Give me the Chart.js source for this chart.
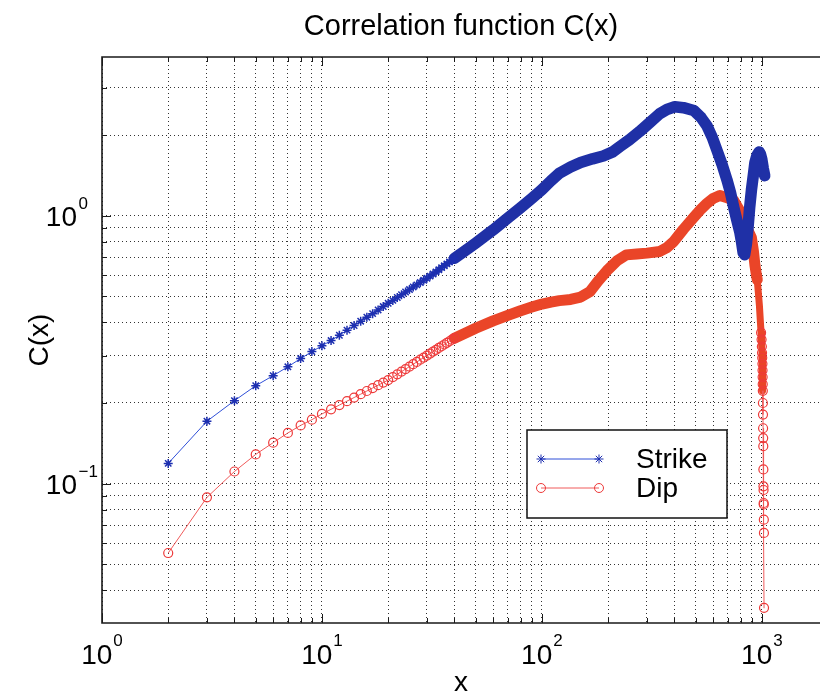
<!DOCTYPE html>
<html><head><meta charset="utf-8">
<script src="https://cdn.jsdelivr.net/npm/chart.js@4.4.0/dist/chart.umd.min.js"></script>
<style>html,body{margin:0;padding:0;background:#fff;}canvas{display:block;}</style>
</head><body>
<canvas id="c" width="820" height="700"></canvas>
<script>
const seriesNames = ['Strike', 'Dip'];
const strikeX = [2,3,4,5,6,7,8,9,10,11,12,13,14,15,16,17,18,19,20,21,22,23,24,25,26,27,28,29,30,31,32,33,34,35,36,37,38,39,40,
  45,50,60,70,80,90,100,110,120,135,150,170,190,210,226,250,278,310,343,370,402,440,490,530,562,595,624,660,694,720,744,770,795,810,822,835,850,866,880,897,915,930,950,972,985,1000,1015,1030];
const strikeY = [0.119,0.171,0.204,0.232,0.253,0.273,0.293,0.311,0.327,0.342,0.358,0.374,0.389,0.404,0.418,0.431,0.445,0.458,0.471,0.483,0.495,0.507,0.519,0.530,0.542,0.552,0.563,0.574,0.584,0.595,0.606,0.617,0.628,0.640,0.650,0.661,0.672,0.682,0.693,
  0.742,0.790,0.885,0.98,1.07,1.16,1.25,1.35,1.44,1.52,1.58,1.63,1.67,1.73,1.81,1.92,2.06,2.23,2.40,2.49,2.55,2.53,2.47,2.32,2.17,1.96,1.76,1.55,1.36,1.22,1.08,0.96,0.864,0.79,0.727,0.715,0.78,0.91,1.07,1.25,1.42,1.58,1.68,1.73,1.70,1.62,1.50,1.41];
const dipX = [2,3,4,5,6,7,8,9,10,11,12,13,14,15,16,17,18,19,20,21,22,23,24,25,26,27,28,29,30,31,32,33,34,35,36,37,38,39,40,
  45,50,60,70,80,90,100,110,120,135,150,165,180,200,220,242,270,300,343,370,397,440,490,530,562,600,644,690,744,790,822,860,897,915,930,942,953,
  965,975,985,992,997,1000,1002,1004,1006,1007,1008,1009,1010,1011,1012,1013,1014,1015,1016,1017,1018,1019,1020,1021,1022,1023];
const dipY = [0.0551,0.0889,0.111,0.1286,0.1422,0.1546,0.165,0.1733,0.182,0.1894,0.1965,0.2032,0.2096,0.2157,0.2217,0.2274,0.2330,0.2383,0.2435,0.2498,0.2559,0.2619,0.2677,0.2735,0.2791,0.2846,0.2901,0.2954,0.3006,0.3058,0.3109,0.3159,0.3209,0.3257,0.3306,0.3353,0.3400,0.3446,0.3492,
  0.365,0.380,0.405,0.425,0.442,0.456,0.468,0.476,0.482,0.487,0.497,0.52,0.57,0.63,0.68,0.714,0.72,0.725,0.735,0.76,0.80,0.89,0.985,1.06,1.11,1.16,1.19,1.17,1.14,1.05,0.96,0.89,0.826,0.74,0.654,0.61,0.577,
  0.51,0.46,0.40,0.366,0.345,0.325,0.308,0.295,0.28,0.265,0.25,0.235,0.222,0.200,0.181,0.161,0.148,0.138,0.113,0.0977,0.0947,0.0847,0.0836,0.0734,0.0655,0.0344];
const xGridValues = [1,2,3,4,5,6,7,8,9,10,20,30,40,50,60,70,80,90,100,200,300,400,500,600,700,800,900,1000];
const yGridValues = [0.04,0.05,0.06,0.07,0.08,0.09,0.1,0.2,0.3,0.4,0.5,0.6,0.7,0.8,0.9,1,2,3];
const xLabelDecades = [1,10,100,1000];
const xLabelExponents = ['0','1','2','3'];
const yLabelDecades = [0.1,1];
const yLabelExponents = ['\u22121','0'];
const titleText = 'Correlation function C(x)';
const xTitle = 'x';
const yTitle = 'C(x)';

const FONT = '"Liberation Sans", Arial, Helvetica, sans-serif';
const BLUE_THIN = '#2f4fd8', BLUE_BAND = '#1f30a6', BLUE_MARK = '#1d2fb0';
const RED_THIN = '#f05a5a', RED_BAND = '#ea4528', RED_MARK = '#ee3a3a';

const toPts = (xs, ys) => xs.map((x, i) => ({x, y: ys[i]}));

const decorations = {
  id: 'decorations',
  afterDatasetsDraw(chart) {
    const {ctx, chartArea: a, scales: {x, y}} = chart;
    ctx.save();
    ctx.strokeStyle = '#1a1a1a';
    ctx.lineWidth = 1.6;
    ctx.beginPath();
    ctx.moveTo(chart.width, a.top); ctx.lineTo(a.left, a.top);
    ctx.lineTo(a.left, a.bottom); ctx.lineTo(chart.width, a.bottom);
    ctx.stroke();
    ctx.lineWidth = 1;
    xGridValues.forEach(v => {
      const px = Math.round(x.getPixelForValue(v)) + 0.5;
      const len = xLabelDecades.includes(v) ? 9 : 5;
      ctx.beginPath();
      ctx.moveTo(px, a.bottom); ctx.lineTo(px, a.bottom - len);
      ctx.moveTo(px, a.top); ctx.lineTo(px, a.top + len);
      ctx.stroke();
    });
    yGridValues.forEach(v => {
      const py = Math.round(y.getPixelForValue(v)) + 0.5;
      const len = yLabelDecades.includes(v) ? 9 : 5;
      ctx.beginPath();
      ctx.moveTo(a.left, py); ctx.lineTo(a.left + len, py);
      ctx.stroke();
    });
    ctx.restore();
  },
  afterDraw(chart) {
    const {ctx, scales: {x, y}} = chart;
    ctx.save();
    ctx.fillStyle = '#000';
    ctx.textBaseline = 'alphabetic';
    xLabelDecades.forEach((v, i) => {
      const px = x.getPixelForValue(v);
      ctx.font = '28px ' + FONT;
      const w1 = ctx.measureText('10').width;
      ctx.font = '17px ' + FONT;
      const w2 = ctx.measureText(xLabelExponents[i]).width;
      const start = px - (w1 + 1 + w2) / 2;
      ctx.font = '28px ' + FONT;
      ctx.textAlign = 'left';
      ctx.fillText('10', start, 664);
      ctx.font = '17px ' + FONT;
      ctx.fillText(xLabelExponents[i], start + w1 + 1, 646);
    });
    yLabelDecades.forEach((v, i) => {
      const py = y.getPixelForValue(v);
      ctx.font = '28px ' + FONT;
      ctx.textAlign = 'right';
      ctx.fillText('10', 77, py + 10);
      ctx.font = '17px ' + FONT;
      ctx.textAlign = 'left';
      ctx.fillText(yLabelExponents[i], 78.5, py - 7);
    });
    const bx = 527, by = 430, bw = 200, bh = 88;
    ctx.fillStyle = '#fff';
    ctx.fillRect(bx, by, bw, bh);
    ctx.strokeStyle = '#111';
    ctx.lineWidth = 1.5;
    ctx.strokeRect(bx, by, bw, bh);
    const rows = [
      {y: 459, color: BLUE_THIN, mark: BLUE_MARK, style: 'star'},
      {y: 488, color: RED_THIN, mark: RED_MARK, style: 'circle'}
    ];
    rows.forEach((r, i) => {
      ctx.strokeStyle = r.color; ctx.lineWidth = 1;
      ctx.beginPath(); ctx.moveTo(541, r.y); ctx.lineTo(599, r.y); ctx.stroke();
      ctx.strokeStyle = r.mark; ctx.fillStyle = 'rgba(0,0,0,0)';
      [541, 599].forEach(px => Chart.helpers.drawPoint(ctx, {pointStyle: r.style, radius: 4.5, borderWidth: 1.4}, px, r.y));
      ctx.fillStyle = '#000';
      ctx.font = '28px ' + FONT;
      ctx.textAlign = 'left';
      ctx.textBaseline = 'middle';
      ctx.fillText(seriesNames[i], 636, r.y + 1);
    });
    ctx.restore();
  }
};

const redBand = c => c.p0.parsed.x >= 40 && c.p1.parsed.x <= 953;
const redTail = c => c.p0.parsed.x >= 953 && c.p1.parsed.x <= 1010;

new Chart(document.getElementById('c'), {
  type: 'scatter',
  data: {
    datasets: [
      {
        label: seriesNames[0],
        data: toPts(strikeX, strikeY),
        showLine: true,
        borderColor: BLUE_THIN,
        borderWidth: 1,
        borderCapStyle: 'round',
        borderJoinStyle: 'round',
        pointStyle: 'star',
        pointRadius: c => (c.raw && c.raw.x <= 40 ? 4.5 : 0),
        pointBorderColor: BLUE_MARK,
        pointBackgroundColor: BLUE_MARK,
        pointBorderWidth: 1.5,
        segment: {
          borderWidth: c => (c.p0.parsed.x >= 40 ? 11.5 : 1),
          borderColor: c => (c.p0.parsed.x >= 40 ? BLUE_BAND : BLUE_THIN)
        }
      },
      {
        label: seriesNames[1],
        data: toPts(dipX, dipY),
        showLine: true,
        borderColor: RED_THIN,
        borderWidth: 1,
        borderCapStyle: 'round',
        borderJoinStyle: 'round',
        pointStyle: 'circle',
        pointRadius: c => (c.raw && (c.raw.x <= 40 || c.raw.x > 985) ? 4.5 : 0),
        pointBorderColor: RED_MARK,
        pointBackgroundColor: 'rgba(0,0,0,0)',
        pointBorderWidth: 1.2,
        segment: {
          borderWidth: c => (redBand(c) ? 11 : redTail(c) ? 7 : 1),
          borderColor: c => (redBand(c) || redTail(c) ? RED_BAND : RED_THIN)
        }
      }
    ]
  },
  options: {
    responsive: false,
    animation: false,
    devicePixelRatio: 1,
    layout: {padding: 0, autoPadding: false},
    plugins: {
      legend: {display: false},
      tooltip: {enabled: false},
      title: {
        display: true,
        fullSize: false,
        text: titleText,
        color: '#000',
        font: {family: FONT, size: 29, weight: 'normal'},
        padding: {top: 10, bottom: 12.2}
      }
    },
    scales: {
      x: {
        type: 'logarithmic',
        min: 1,
        max: 1838,
        afterBuildTicks: s => { s.ticks = xGridValues.map(v => ({value: v})); },
        afterFit: s => { s.height = 77; },
        ticks: {display: false},
        grid: {color: 'rgba(0,0,0,0.8)', lineWidth: 1, drawTicks: false},
        border: {display: false, dash: [1, 3]},
        title: {display: true, text: xTitle, color: '#000', font: {family: FONT, size: 28}, padding: {top: 0, bottom: 0}}
      },
      y: {
        type: 'logarithmic',
        min: 0.0302,
        max: 3.91,
        afterBuildTicks: s => { s.ticks = yGridValues.map(v => ({value: v})); },
        afterFit: s => { s.width = 102; },
        ticks: {display: false},
        grid: {color: 'rgba(0,0,0,0.8)', lineWidth: 1, drawTicks: false},
        border: {display: false, dash: [1, 3]},
        title: {display: true, text: yTitle, color: '#000', font: {family: FONT, size: 28}, padding: {top: 23, bottom: 0}}
      }
    }
  },
  plugins: [decorations]
});
</script>
</body></html>
